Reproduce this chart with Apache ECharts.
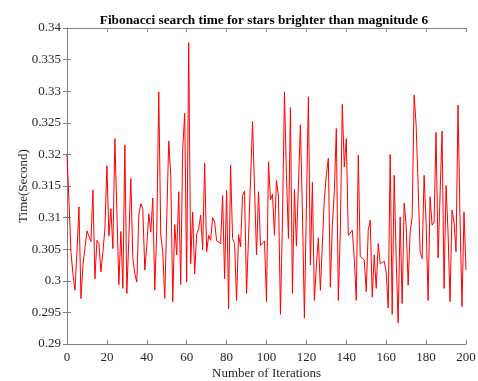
<!DOCTYPE html>
<html>
<head>
<meta charset="utf-8">
<script src="https://cdn.jsdelivr.net/npm/echarts@6/dist/echarts.min.js"></script>
<style>
  html, body { margin: 0; padding: 0; background: #fff; }
  #chart { width: 478px; height: 381px; }
</style>
</head>
<body>
<div id="chart"></div>
<script>
// 搜索时间 (秒), 迭代 0..200
var times = [
  0.3200, 0.3125, 0.3045, 0.3010, 0.2985, 0.3046, 0.3117, 0.2972, 0.3025, 0.3027,
  0.3079, 0.3077, 0.3062, 0.3144, 0.3003, 0.3064, 0.3059, 0.3014, 0.3046, 0.3082,
  0.3182, 0.3071, 0.3114, 0.3051, 0.3225, 0.3109, 0.2994, 0.3078, 0.2988, 0.3215,
  0.2980, 0.3067, 0.3162, 0.3035, 0.3011, 0.2998, 0.3104, 0.3122, 0.3114, 0.3017,
  0.3056, 0.3106, 0.3077, 0.3131, 0.2985, 0.3080, 0.3299, 0.3072, 0.3046, 0.2972,
  0.3099, 0.3221, 0.3167, 0.2967, 0.3089, 0.3041, 0.3141, 0.2994, 0.3209, 0.3265,
  0.2998, 0.3377, 0.3027, 0.3109, 0.3011, 0.3074, 0.3082, 0.3104, 0.3049, 0.3186,
  0.3046, 0.3072, 0.3064, 0.3100, 0.3093, 0.3063, 0.3063, 0.3059, 0.3135, 0.3003,
  0.3143, 0.2956, 0.3183, 0.3067, 0.3059, 0.2969, 0.3073, 0.3054, 0.3135, 0.3142,
  0.2980, 0.3070, 0.3160, 0.3252, 0.3254, 0.3041, 0.3141, 0.3056, 0.3054, 0.3063,
  0.2967, 0.3188, 0.3128, 0.3137, 0.3072, 0.3159, 0.3133, 0.2947, 0.3095, 0.3299,
  0.3167, 0.3067, 0.3274, 0.2980, 0.3145, 0.3055, 0.3151, 0.3247, 0.3109, 0.2941,
  0.2940, 0.3291, 0.3025, 0.3156, 0.2969, 0.3025, 0.3068, 0.2985, 0.2988, 0.3130,
  0.3167, 0.3194, 0.2990, 0.3088, 0.3141, 0.3241, 0.2969, 0.3080, 0.3279, 0.3180,
  0.3225, 0.3072, 0.3074, 0.3080, 0.3035, 0.2969, 0.3199, 0.3038, 0.3036, 0.3033,
  0.2983, 0.3080, 0.3096, 0.2974, 0.3041, 0.2988, 0.3059, 0.3027, 0.3027, 0.3031,
  0.3014, 0.2957, 0.3200, 0.2947, 0.3167, 0.3035, 0.2933, 0.3101, 0.2964, 0.3123,
  0.3088, 0.2993, 0.3077, 0.3101, 0.3294, 0.3246, 0.3151, 0.3046, 0.3035, 0.3167,
  0.3091, 0.2969, 0.3133, 0.3088, 0.3093, 0.3235, 0.3036, 0.3036, 0.3237, 0.2988,
  0.3151, 0.3077, 0.2967, 0.3112, 0.3093, 0.3046, 0.3278, 0.3100, 0.2959, 0.3109,
  0.3017
];
var xMin = 0, xMax = 200, xStep = 20;
var yMin = 0.29, yMax = 0.34, yStep = 0.005;

var seriesData = times.map(function (v, i) { return [i, v]; });

var font = '"Liberation Serif", "Times New Roman", serif';
var textColor = '#262626';
var lineColor = '#808080';

var chart = echarts.init(document.getElementById('chart'));

function xAxisOf(pos, showLabel) {
  return {
    type: 'value', position: pos, min: xMin, max: xMax, interval: xStep,
    name: showLabel ? 'Number of Iterations' : '',
    nameLocation: 'middle', nameGap: 23, nameMoveOverlap: false,
    nameTextStyle: { fontFamily: font, fontSize: 13, color: textColor },
    axisLine: { show: true, lineStyle: { color: lineColor, width: 1 } },
    axisTick: { show: true, inside: true, length: 4, lineStyle: { color: lineColor } },
    axisLabel: { show: showLabel, fontFamily: font, fontSize: 13, color: textColor, margin: 7 },
    splitLine: { show: false }
  };
}
function yAxisOf(pos, showLabel) {
  return {
    type: 'value', position: pos, min: yMin, max: yMax, interval: yStep,
    name: showLabel ? 'Time(Second)' : '',
    nameLocation: 'middle', nameGap: 37, nameMoveOverlap: false,
    nameTextStyle: { fontFamily: font, fontSize: 13, color: textColor },
    axisLine: { show: true, lineStyle: { color: lineColor, width: 1 } },
    axisTick: { show: true, inside: true, length: 4, lineStyle: { color: lineColor } },
    axisLabel: { show: showLabel, fontFamily: font, fontSize: 13, color: textColor, margin: 6 },
    splitLine: { show: false }
  };
}

var option = {
  animation: false,
  backgroundColor: '#fff',
  title: {
    text: 'Fibonacci search time for stars brighter than magnitude 6',
    left: 259, top: 9, textAlign: 'center',
    textStyle: { fontFamily: font, fontSize: 13.3, fontWeight: 'bold', color: '#000' }
  },
  grid: { left: 67, right: 12, top: 28, bottom: 37, containLabel: false, outerBoundsMode: 'none' },
  xAxis: [xAxisOf('bottom', true), xAxisOf('top', false)],
  yAxis: [yAxisOf('left', true), yAxisOf('right', false)],
  series: [{
    type: 'line',
    data: seriesData,
    showSymbol: false,
    lineStyle: { color: '#ff0000', width: 1 },
    itemStyle: { color: '#ff0000' }
  }]
};

chart.setOption(option);
</script>
</body>
</html>
